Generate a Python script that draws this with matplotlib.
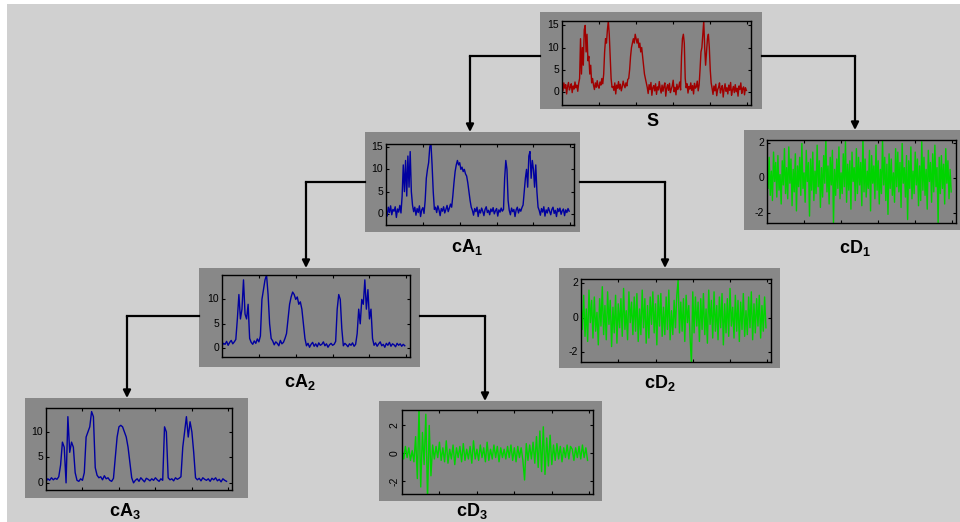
import matplotlib
matplotlib.use("Agg")
import matplotlib.pyplot as plt
from matplotlib.patches import Rectangle, FancyArrowPatch
from matplotlib.lines import Line2D
import numpy as np

plt.rcParams['font.family'] = ['Liberation Sans', 'DejaVu Sans']
plt.rcParams['mathtext.default'] = 'regular'

# original signal s
s_vals = [1.5, 0.2, 2.0, 0.8, 1.6, -0.5, 1.2, 2.1, 0.4, 1.0,
          1.8, -0.2, 1.3, 0.6, 2.2, 0.9, 1.5, 0.1, 1.9, 3.0,
          12, 4, 10, 6, 14, 15, 9, 13, 7, 8,
          4, 6, 2, 3, 1.5, 0.5, 2.0, 1.0, 2.5, 1.2,
          0.8, 2.2, 1.5, 3.0, 1.8, 4, 9, 12, 11, 14,
          16, 13, 8, 3, 1, 1.2, 0.3, 2.0, -0.5, 1.5,
          0.8, 2.3, 0.6, 1.7, 0.2, 1.1, 2.4, 1.5, 0.9, 2.0,
          1.3, 2.8, 3, 5, 8, 10, 11, 12, 11, 13,
          12, 11, 12, 10, 11, 9, 10, 8, 6, 4,
          3, 2, 1.0, -0.4, 1.6, 0.5, 2.1, -0.8, 0.9, 1.4,
          0.2, 1.8, -0.6, 1.1, 0.4, 2.3, 0.7, -0.3, 1.5, 0.1,
          1.2, 2.0, -1.0, 0.8, 1.6, 0.3, 1.9, -0.2, 0.6, 1.3,
          2.6, 0.0, 1.0, -0.7, 1.7, 0.5, 1.1, 2.2, 0.4, 8,
          12, 13, 11, 3, 0.9, 1.8, -0.3, 1.2, 0.6, 2.0,
          0.3, 1.4, -0.5, 1.9, 0.8, 1.1, 2.4, 0.2, 1.5, 5,
          9, 10, 13, 16, 10, 6, 9, 12, 13, 10,
          5, 2, 0.8, -0.6, 1.3, 0.2, 1.7, -0.9, 0.5, 1.0,
          2.0, -0.3, 0.7, 1.4, -1.2, 0.6, 1.8, 0.1, 0.9, -0.5,
          1.5, 0.3, 2.1, -0.8, 0.4, 1.2, -0.2, 1.6, 0.0, 0.8,
          -1.0, 1.3, 0.5, 2.0, -0.4, 0.7, 1.1, -0.7, 0.9, 0.3]

# approximation coefficients
ca1_vals = [1.2, -0.5, 1.5, 0.3, 1.8, -0.2, 1.0, 0.6, 1.6, -0.8,
            1.1, 0.4, 1.9, 0.2, 4, 11, 5, 12, 4, 13,
            6, 14, 5, 2, 0.5, 1.5, -0.3, 1.2, 0.3, 1.8,
            -0.6, 0.9, 1.4, 0.1, 3, 8, 10, 11.5, 15, 16,
            11, 5, 1, 1.5, 0.3, 1.8, 0.9, -0.4, 1.2, 0.6,
            1.6, 0.2, 1.0, 1.9, 0.5, 1.3, 2.2, 1.5, 4, 7,
            9.5, 11, 12, 11, 11.5, 10, 10.5, 9.5, 10, 9,
            8.5, 7, 5, 3, 1.5, 0.8, -0.3, 1.2, 0.5, 1.5,
            -0.6, 0.9, 0.2, 1.3, 0.6, -0.4, 1.0, 1.6, 0.3, 0.8,
            -0.2, 1.1, 0.5, 1.4, 0.0, 0.7, 1.2, -0.5, 0.9, 0.4,
            1.3, 0.6, 1.0, 8, 12, 10, 3, 0.8, -0.2, 1.3,
            0.5, 1.0, -0.6, 0.9, 1.5, 0.2, 1.1, 0.6, 1.4, 2.0,
            5, 8, 10, 6, 13, 14, 8, 12, 10, 6,
            11, 5, 1.5, 0.8, -0.3, 1.2, 0.4, 1.6, -0.5, 0.9,
            0.2, 1.4, 0.6, -0.2, 1.0, 1.5, 0.1, 0.8, -0.6, 1.2,
            0.5, 1.3, -0.1, 0.7, 1.1, -0.4, 0.9, 0.3, 1.2, 0.6]

ca2_vals = [0.5, 1.0, 0.8, 1.4, 0.6, 1.2, 1.6, 0.9, 1.3, 1.8,
            6, 11, 6, 8, 14, 7, 6, 9, 2, 1.2,
            0.8, 1.5, 1.0, 1.9, 1.3, 2.5, 10, 12, 14, 15,
            11, 5, 2, 1.5, 0.7, 1.3, 1.0, 0.5, 1.6, 0.9,
            1.2, 2.0, 3.0, 6, 9, 10.5, 11.5, 11, 10, 10.5,
            9, 9.5, 8, 5, 2, 0.5, 1.0, 0.2, 0.8, 1.2,
            0.4, 0.9, 0.3, 1.1, 0.6, 0.8, 1.3, 0.5, 0.9, 0.2,
            0.7, 1.0, 0.6, 0.8, 1.4, 8, 11, 10, 4, 0.5,
            1.0, 0.7, 0.3, 0.9, 0.6, 1.1, 0.4, 0.8, 3, 8,
            5, 10, 9, 14, 8, 12, 6, 8, 2, 0.6,
            1.1, 0.4, 0.9, 1.3, 0.5, 0.8, 0.2, 1.0, 0.6, 1.2,
            0.4, 0.9, 0.7, 0.3, 1.0, 0.6, 0.9, 0.4, 0.8, 0.5]

ca3_vals = [0.3, 0.8, 0.5, 1.0, 0.6, 0.9, 0.7, 1.2, 3.5, 8,
            7, 0, 13, 6, 8, 7, 2, 0.5, 0.3, 0.8,
            0.5, 2, 9, 10, 11, 14, 13, 3, 1.5, 1.0,
            1.2, 0.6, 1.4, 0.8, 1.0, 0.5, 0.3, 0.9, 5, 9,
            11, 11.3, 11, 10, 9, 7, 4, 1, 0, 0.5,
            0.8, 0.3, 1.0, 0.6, 0.2, 0.9, 0.7, 0.4, 0.8, 0.5,
            1.0, 0.6, 0.3, 0.8, 0.5, 11, 10, 1, 0.6, 0.8,
            0.4, 1.0, 0.7, 0.9, 1.2, 7, 10, 13, 9, 12,
            10, 6, 1, 0.6, 0.9, 0.4, 1.0, 0.7, 0.5, 0.8,
            0.3, 0.9, 0.6, 1.0, 0.4, 0.7, 0.2, 0.8, 0.5, 0.3]

# detail coefficients
cd1_vals = [0.8, -0.6, 1.2, -1.0, 0.4, -1.3, 1.5, -0.2, 0.9, -1.1,
            1.3, -0.7, 0.2, -1.5, 1.0, -0.4, 1.7, -0.9, 0.6, -1.2,
            1.8, -0.3, 1.1, -1.6, 0.5, -0.8, 1.4, -1.9, 0.7, -0.5,
            1.2, -1.0, 2.0, -0.6, 0.3, -1.4, 1.6, -0.2, 0.9, -2.2,
            1.1, -0.7, 1.5, -1.3, 0.4, -0.9, 1.9, -0.5, 1.0, -1.7,
            0.6, -1.1, 1.3, -0.3, 2.3, -0.8, 0.7, -1.5, 1.2, -0.4,
            1.6, -2.6, 0.5, -1.0, 1.1, -0.6, 1.8, -1.2, 0.3, -0.9,
            1.4, -0.5, 2.1, -1.4, 0.8, -0.7, 1.0, -1.8, 1.5, -0.2,
            0.6, -1.3, 1.7, -0.9, 1.2, -0.4, 0.9, -1.6, 2.4, -0.8,
            1.1, -1.1, 0.4, -0.6, 1.6, -1.9, 1.3, -0.3, 0.7, -1.2,
            1.9, -0.7, 1.0, -1.5, 0.5, -0.9, 2.2, -0.4, 1.2, -1.3,
            0.8, -2.1, 1.4, -0.6, 1.1, -1.0, 0.3, -1.4, 1.7, -0.5,
            1.5, -0.8, 0.9, -1.7, 2.0, -0.3, 0.6, -1.1, 1.3, -2.4,
            1.0, -0.6, 1.8, -1.2, 0.4, -0.9, 1.5, -0.4, 1.1, -1.6,
            0.7, -1.3, 2.1, -0.7, 1.2, -1.0, 0.5, -1.8, 1.6, -0.2,
            0.9, -1.4, 1.4, -0.8, 1.9, -0.5, 0.6, -2.6, 1.2, -0.9,
            1.3, -0.6, 0.8, -1.5, 1.7, -0.3, 1.0, -1.2, 0.5, -0.8]

cd2_vals = [0.9, -0.7, 1.3, -1.1, 0.5, -1.4, 1.6, -0.3, 1.0, -1.2,
            1.2, -0.8, 0.3, -1.6, 1.1, -0.5, 1.8, -1.0, 0.7, -1.3,
            1.5, -0.4, 1.0, -1.7, 0.6, -0.9, 1.3, -1.5, 0.8, -0.6,
            1.1, -1.1, 1.7, -0.7, 0.4, -1.3, 1.5, -0.3, 0.9, -1.0,
            1.2, -0.8, 1.4, -1.4, 0.5, -1.0, 1.6, -0.6, 1.1, -1.5,
            0.7, -1.2, 1.2, -0.4, 1.5, -0.9, 0.8, -1.6, 1.3, -0.5,
            1.4, -1.1, 0.6, -1.0, 1.2, -0.7, 1.6, -1.3, 0.4, -1.0,
            1.0, -0.6, 1.3, 2.2, -0.9, 0.9, -0.8, 1.1, -1.4, 1.3,
            -0.3, 0.7, -1.2, -2.7, 1.5, -0.9, 1.2, -0.5, 0.9, -1.4,
            1.1, -0.7, 1.4, -1.0, 0.5, -1.5, 1.6, -0.4, 1.0, -1.2,
            1.5, -0.8, 0.7, -1.3, 1.2, -0.6, 1.4, -1.6, 0.8, -0.9,
            1.1, -1.1, 1.7, -0.5, 0.6, -1.2, 1.3, -0.8, 1.0, -1.4,
            0.9, -0.7, 1.4, -1.1, 0.4, -1.0, 1.2, -0.6, 1.5, -1.3,
            0.8, -0.9, 1.1, -0.5, 1.3, -1.2, 0.7, -0.8, 1.2, -0.6]

cd3_vals = [0.3, -0.4, 0.5, -0.3, 0.4, -0.5, 0.2, -0.6, 1.2, -1.8,
            3.2, -2.4, 1.5, -0.8, 2.8, -3.3, 2.0, -1.6, 0.6, -0.4,
            0.5, -0.3, 0.8, -0.5, 0.4, -0.6, 0.9, -0.7, 0.3, -0.4,
            0.6, -0.8, 0.4, -0.3, 0.5, -0.6, 0.7, -0.5, 0.3, -0.4,
            0.5, -0.7, 0.9, -0.4, 0.3, -0.5, 0.6, -0.3, 0.4, -0.6,
            0.8, -0.5, 0.3, -0.4, 0.6, -0.3, 0.5, -0.6, 0.4, -0.3,
            0.3, -0.4, 0.5, -0.3, 0.6, -0.5, 0.4, -0.6, 0.5, -0.3,
            0.4, -0.5, -1.9, 0.7, -0.5, 0.6, -0.4, 0.8, -0.7, 1.2,
            -1.0, 1.6, -1.3, 1.9, -1.5, 1.1, -0.9, 1.3, -0.8, 0.6,
            -0.5, 0.7, -0.4, 0.5, -0.6, 0.4, -0.3, 0.6, -0.4, 0.5,
            0.3, -0.5, 0.4, -0.3, 0.5, -0.4, 0.6, -0.3, 0.4, -0.5]

W, H = 960, 522
RED = '#a00000'
BLUE = '#0000a0'
GREEN = '#00d400'


def fx(x):
    return x / W


def fy(y):
    return 1 - y / H


fig = plt.figure(figsize=(9.6, 5.22), dpi=100)
fig.patch.set_facecolor('#d0d0d0')
# thin white border at top/left of the original screenshot
fig.add_artist(Rectangle((0, fy(4)), 1, 4 / H, transform=fig.transFigure,
                         facecolor='white', edgecolor='none', zorder=-2))
fig.add_artist(Rectangle((0, 0), 7 / W, 1, transform=fig.transFigure,
                         facecolor='white', edgecolor='none', zorder=-2))


def node(frame, box, vals, color, ylim, yticks, label, label_xy,
         rotate_ticks=False):
    x0, y0, x1, y1 = frame
    fig.add_artist(Rectangle((fx(x0), fy(y1)), fx(x1 - x0), (y1 - y0) / H,
                             transform=fig.transFigure, facecolor='#888888',
                             edgecolor='none', zorder=-1))
    a0, b0, a1, b1 = box
    ax = fig.add_axes([fx(a0), fy(b1), fx(a1 - a0), (b1 - b0) / H])
    ax.set_facecolor('#858585')
    n = len(vals)
    ax.plot(np.arange(n), vals, color=color, lw=1.0)
    ax.set_xlim(0, n * 1.02)
    ax.set_ylim(*ylim)
    ax.set_xticks(np.arange(1, 6) * n / 5)
    ax.set_xticklabels([])
    ax.set_yticks(yticks)
    ax.set_yticklabels([str(t) for t in yticks], fontsize=7.5,
                       rotation=90 if rotate_ticks else 0, va='center')
    ax.tick_params(direction='in', length=2.5, width=0.8, pad=2,
                   top=True, right=True)
    for sp in ax.spines.values():
        sp.set_linewidth(1.0)
        sp.set_color('black')
    fig.text(fx(label_xy[0]), fy(label_xy[1]), label, fontsize=13,
             fontweight='bold', ha='center', va='center')
    return ax


def connect(start, corner, end):
    fig.add_artist(Line2D([fx(start[0]), fx(corner[0])],
                          [fy(start[1]), fy(corner[1])],
                          transform=fig.transFigure, color='black', lw=1.6))
    fig.add_artist(FancyArrowPatch((fx(corner[0]), fy(corner[1])),
                                   (fx(end[0]), fy(end[1])),
                                   transform=fig.transFigure,
                                   arrowstyle='-|>', mutation_scale=11,
                                   color='black', lw=1.6, shrinkA=0,
                                   shrinkB=0))


node((540, 12, 762, 109), (562, 21, 751, 105), s_vals, RED,
     (-3, 16), [0, 5, 10, 15], 'S', (653, 122))
node((365, 132, 580, 232), (386, 144, 574, 225), ca1_vals, BLUE,
     (-2.5, 15.7), [0, 5, 10, 15], 'cA$_1$', (467, 247))
node((744, 130, 962, 230), (767, 140, 956, 223), cd1_vals, GREEN,
     (-2.6, 2.2), [-2, 0, 2], 'cD$_1$', (855, 248))
node((199, 268, 420, 367), (222, 275, 410, 357), ca2_vals, BLUE,
     (-1.8, 15), [0, 5, 10], 'cA$_2$', (300, 382))
node((559, 268, 780, 368), (581, 279, 771, 362), cd2_vals, GREEN,
     (-2.6, 2.25), [-2, 0, 2], 'cD$_2$', (660, 383))
node((25, 398, 248, 498), (46, 408, 232, 490), ca3_vals, BLUE,
     (-1.4, 14.7), [0, 5, 10], 'cA$_3$', (125, 511))
node((379, 401, 602, 501), (402, 410, 593, 494), cd3_vals, GREEN,
     (-2.9, 3.1), [-2, 0, 2], 'cD$_3$', (472, 511), rotate_ticks=True)

connect((540, 56), (470, 56), (470, 132))
connect((762, 56), (855, 56), (855, 130))
connect((365, 182), (306, 182), (306, 268))
connect((580, 182), (665, 182), (665, 268))
connect((199, 316), (127, 316), (127, 398))
connect((420, 316), (485, 316), (485, 401))

fig.savefig('out.png', dpi=100, facecolor=fig.get_facecolor())
